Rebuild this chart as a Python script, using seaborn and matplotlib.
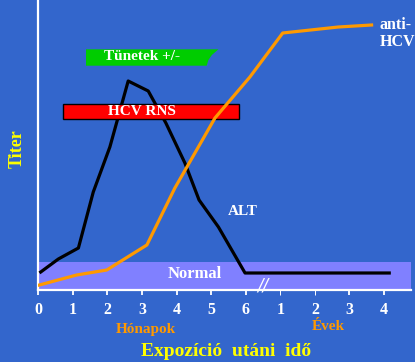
import numpy as np
import pandas as pd
import matplotlib
matplotlib.use('Agg')
import matplotlib.pyplot as plt
import seaborn as sns
from matplotlib.patches import Rectangle, Polygon

# Idő tengely: 0-6 hónap, a törés után 1-4 év
tick_pos = [0, 1, 2, 3, 4, 5, 6, 7, 8, 9, 10]
tick_labels = ['0', '1', '2', '3', '4', '5', '6', '1', '2', '3', '4']

# ALT görbe
alt_x = [0.07, 0.58, 1.16, 1.59, 2.07, 2.60, 3.18, 3.69, 4.24, 4.65, 5.21, 5.98, 10.15]
alt_y = [18, 31, 42, 98, 143, 209, 199, 167, 127, 90, 63, 17, 17]

# anti-HCV görbe
anti_x = [0.03, 1.11, 1.98, 3.14, 3.95, 5.11, 6.12, 7.07, 8.68, 9.64]
anti_y = [5, 15, 20, 45, 102, 172, 213, 257, 263, 265]

# sávok (kezdet, vég) és (alsó, felső) szint
rns_span = (0.71, 5.81)
rns_level = (171, 186)
symptom_span = (1.38, 5.21)
symptom_level = (224.3, 240.7)
normal_level = (1, 28)

BG = '#3366CC'
ORANGE = '#FF9900'
YELLOW = '#FFFF00'
serif = 'Liberation Serif'

fig = plt.figure(figsize=(4.15, 3.62), dpi=100, facecolor=BG)
ax = fig.add_axes([38.3 / 415, 1 - 290 / 362, (411 - 38.3) / 415, 290 / 362])
ax.set_facecolor(BG)
ax.set_xlim(0, 10.78)
ax.set_ylim(0, 290)

# Normal tartomány
ax.axhspan(normal_level[0], normal_level[1], color='#8080FF', zorder=1, lw=0)
ax.text(4.53, 15.5, 'Normal', color='white', fontsize=12, fontweight='bold',
        family=serif, ha='center', va='center', zorder=2)

# ALT (a HCV RNS sáv alatt)
sns.lineplot(x=alt_x, y=alt_y, ax=ax, color='black', lw=2.3,
             sort=False, estimator=None, zorder=3)

# HCV RNS sáv
ax.add_patch(Rectangle((rns_span[0], rns_level[0]),
                       rns_span[1] - rns_span[0], rns_level[1] - rns_level[0],
                       facecolor='#FF0000', edgecolor='black', lw=1, zorder=4))
ax.text(sum(rns_span) / 2 - 0.27, sum(rns_level) / 2, 'HCV RNS', color='white',
        fontsize=11, fontweight='bold', family=serif,
        ha='center', va='center', zorder=5)

# Tünetek sáv (szakadt jobb vég)
x0, x1 = symptom_span
y0, y1 = symptom_level
ax.add_patch(Polygon([(x0, y0), (x0, y1), (x1, y1), (x1 - 0.19, y1 - 5.7),
                      (x1 - 0.29, y1 - 10.7), (x1 - 0.34, y0)],
                     closed=True, facecolor='#00CC00', lw=0, zorder=4))
ax.text(3.01, 234, 'Tünetek +/-', color='white', fontsize=11, fontweight='bold',
        family=serif, ha='center', va='center', zorder=5)

# anti-HCV (a sávok fölött)
sns.lineplot(x=anti_x, y=anti_y, ax=ax, color=ORANGE, lw=2.3,
             sort=False, estimator=None, zorder=6)

ax.text(5.92, 78.3, 'ALT', color='white', fontsize=11, fontweight='bold',
        family=serif, ha='center', va='center')
ax.text(9.87, 256.5, 'anti-\nHCV', color='white', fontsize=11.5, fontweight='bold',
        family=serif, ha='left', va='center', linespacing=1.1)

# tengelytörés jel
ax.text(6.5, 4, '//', color='white', fontsize=12, ha='center', va='center',
        style='italic', zorder=7)

for side in ['top', 'right']:
    ax.spines[side].set_visible(False)
for side in ['left', 'bottom']:
    ax.spines[side].set_color('white')
    ax.spines[side].set_linewidth(1.6)

ax.set_yticks([])
ax.set_xticks(tick_pos)
ax.set_xticklabels(tick_labels, color='white', fontsize=11.5,
                   fontweight='bold', family=serif)
ax.tick_params(axis='x', colors='white', length=3.5, width=1.3, pad=5)
for t in ax.xaxis.get_major_ticks()[7:9]:
    t.tick1line.set_color('#9fb3e6')
    t.tick1line.set_markeredgewidth(0.7)
for lbl in ax.get_xticklabels():
    lbl.set_color('white')

fig.text(145.8 / 415, 1 - 329.3 / 362, 'Hónapok', color=ORANGE, fontsize=11,
         fontweight='bold', family=serif, ha='center', va='center')
fig.text(328 / 415, 1 - 326 / 362, 'Évek', color=ORANGE, fontsize=11,
         fontweight='bold', family=serif, ha='center', va='center')
fig.text(226 / 415, 1 - 351.7 / 362, 'Expozíció  utáni  idő', color=YELLOW,
         fontsize=14, fontweight='bold', family=serif, ha='center', va='center')
fig.text(16.7 / 415, 1 - 148.3 / 362, 'Titer', color=YELLOW, fontsize=13,
         fontweight='bold', family=serif, ha='center', va='center', rotation=90)

fig.savefig('out.png', dpi=100, facecolor=BG)
